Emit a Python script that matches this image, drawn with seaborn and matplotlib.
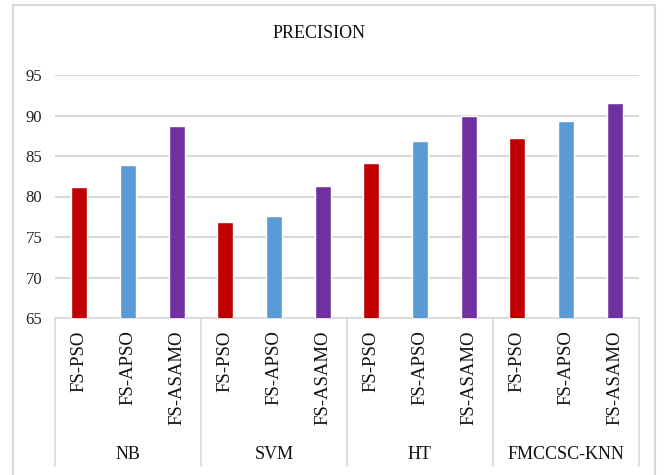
import matplotlib
matplotlib.use("Agg")
import matplotlib.pyplot as plt
from matplotlib.patches import Rectangle
import matplotlib.transforms as mtransforms
import pandas as pd
import seaborn as sns

classifiers = ["NB", "SVM", "HT", "FMCCSC-KNN"]
methods = ["FS-PSO", "FS-APSO", "FS-ASAMO"]
fs_pso = [81.2, 76.8, 84.1, 87.2]
fs_apso = [83.9, 77.6, 86.8, 89.3]
fs_asamo = [88.7, 81.3, 89.9, 91.6]
yticks = [65, 70, 75, 80, 85, 90, 95]
colors = ["#C00000", "#5B9BD5", "#7030A0"]

rows = []
for i, clf in enumerate(classifiers):
    for m, vals in zip(methods, [fs_pso, fs_apso, fs_asamo]):
        rows.append({"slot": f"{clf}|{m}", "classifier": clf, "method": m, "value": vals[i]})
df = pd.DataFrame(rows)

sns.set_theme(style="white")
plt.rcParams["font.family"] = ["Liberation Serif", "DejaVu Serif"]

W, H = 664, 475
fig = plt.figure(figsize=(W / 100, H / 100), dpi=100)
ax = fig.add_axes([55 / W, 1 - 318 / H, (639 - 55) / W, (318 - 75) / H])

grid_c = "#D9D9D9"
sns.barplot(data=df, x="slot", y="value", hue="method", hue_order=methods,
            palette=colors, dodge=False, width=0.33, ax=ax, legend=False,
            saturation=1, zorder=3)

ax.set_ylim(65, 95)
ax.set_xlim(-0.5, len(df) - 0.5)
ax.set_yticks(yticks)
ax.set_yticklabels([str(t) for t in yticks], fontsize=12, color="#222222")
ax.tick_params(axis="y", length=0, pad=9)
ax.yaxis.grid(True, color=grid_c, linewidth=1.5, zorder=0)
ax.set_axisbelow(True)
for s in ["top", "right", "left"]:
    ax.spines[s].set_visible(False)
ax.spines["bottom"].set_color(grid_c)
ax.spines["bottom"].set_linewidth(1.2)
ax.set_xlabel("")
ax.set_ylabel("")

# inner category labels (rotated)
ax.set_xticks(range(len(df)))
ax.set_xticklabels(df["method"], rotation=90, fontsize=13.5, color="#111111", va="top")
ax.tick_params(axis="x", length=0, pad=9)

# outer category labels and separators
trans = mtransforms.blended_transform_factory(ax.transData, ax.transAxes)
n = len(methods)
for i, clf in enumerate(classifiers):
    ax.text(i * n + (n - 1) / 2, -0.56, clf, transform=trans, ha="center", va="center",
            fontsize=13, color="#111111")
for k in range(len(classifiers) + 1):
    x = k * n - 0.5
    ax.plot([x, x], [0, -0.61], transform=trans, color=grid_c, linewidth=1.2,
            clip_on=False)

# title
fig.text(319 / W, 1 - 33 / H, "PRECISION", ha="center", va="center", fontsize=13,
         color="#111111")

# chart frame
fig.patches.append(Rectangle((13 / W, -0.02), (655 - 13) / W, 1.02 - 5 / H,
                             transform=fig.transFigure, fill=False,
                             edgecolor=grid_c, linewidth=1.5))

fig.savefig("out.png", dpi=100)
